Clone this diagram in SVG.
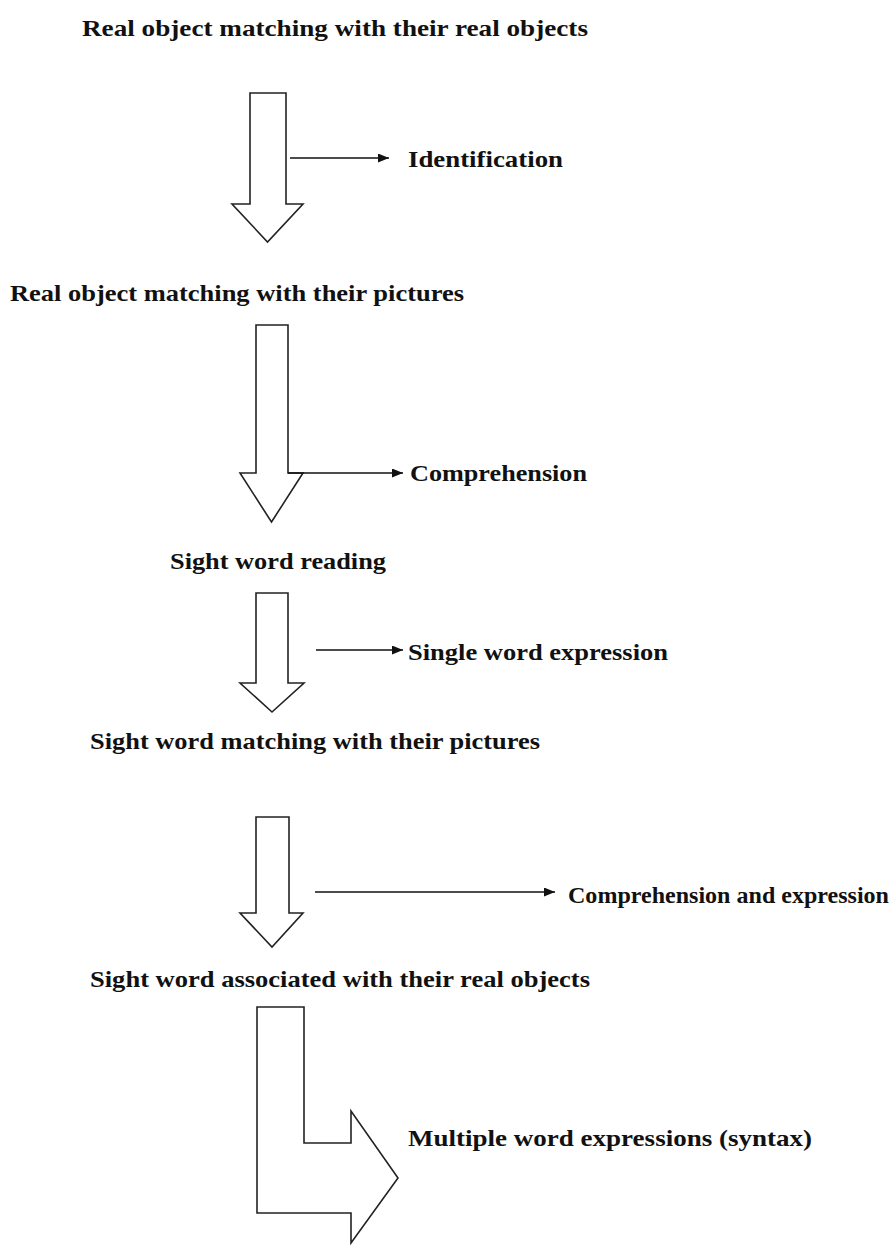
<svg xmlns="http://www.w3.org/2000/svg" width="891" height="1245" viewBox="0 0 891 1245">
<style>
.lbl{font-family:"Liberation Serif","Times New Roman",serif;font-weight:bold;font-size:23.5px;fill:#111}
.blk{fill:#fff;stroke:#222;stroke-width:1.6;stroke-linejoin:miter}
.con{stroke:#111;stroke-width:1.5;fill:none;marker-end:url(#ah)}
</style>
<defs>
<marker id="ah" markerUnits="userSpaceOnUse" markerWidth="11" markerHeight="9" refX="11" refY="4.5" orient="auto">
<path d="M0,0 L11,4.5 L0,9 Z" fill="#111"/>
</marker>
</defs>
<rect width="891" height="1245" fill="#fff"/>
<g id="n1"><text class="lbl" x="82" y="36" textLength="506" lengthAdjust="spacingAndGlyphs">Real object matching with their real objects</text></g>
<g id="a1"><polygon class="blk" points="250,93 286,93 286,204 303,204 267.5,242 232,204 250,204"/></g>
<g id="n2"><text class="lbl" x="408" y="167" textLength="155" lengthAdjust="spacingAndGlyphs">Identification</text></g>
<g id="n3"><text class="lbl" x="10" y="301" textLength="454" lengthAdjust="spacingAndGlyphs">Real object matching with their pictures</text></g>
<g id="a2"><polygon class="blk" points="256,325 288,325 288,473 303,473 271.5,522 240,473 256,473"/></g>
<g id="n4"><text class="lbl" x="410" y="481" textLength="177" lengthAdjust="spacingAndGlyphs">Comprehension</text></g>
<g id="n5"><text class="lbl" x="170" y="569" textLength="216" lengthAdjust="spacingAndGlyphs">Sight word reading</text></g>
<g id="a3"><polygon class="blk" points="256,593 288,593 288,683 304,683 272,712 240,683 256,683"/></g>
<g id="n6"><text class="lbl" x="408" y="660" textLength="260" lengthAdjust="spacingAndGlyphs">Single word expression</text></g>
<g id="n7"><text class="lbl" x="90" y="749" textLength="450" lengthAdjust="spacingAndGlyphs">Sight word matching with their pictures</text></g>
<g id="a4"><polygon class="blk" points="256,817 289,817 289,913 303,913 272,947 240,913 256,913"/></g>
<g id="n8"><text class="lbl" x="568" y="903" font-size="23" textLength="321" lengthAdjust="spacingAndGlyphs">Comprehension and expression</text></g>
<g id="n9"><text class="lbl" x="90" y="987" textLength="500" lengthAdjust="spacingAndGlyphs">Sight word associated with their real objects</text></g>
<g id="a5"><polygon class="blk" points="257,1007 304,1007 304,1143 351,1143 351,1111 398,1178 351,1243 351,1213 257,1213"/></g>
<g id="n10"><text class="lbl" x="408" y="1146" textLength="404" lengthAdjust="spacingAndGlyphs">Multiple word expressions (syntax)</text></g>
<g id="connectors">
<line class="con" x1="290" y1="158" x2="389" y2="158"/>
<line class="con" x1="288" y1="473" x2="403" y2="473"/>
<line class="con" x1="316" y1="650" x2="403" y2="650"/>
<line class="con" x1="315" y1="892" x2="555" y2="892"/>
</g>
</svg>
